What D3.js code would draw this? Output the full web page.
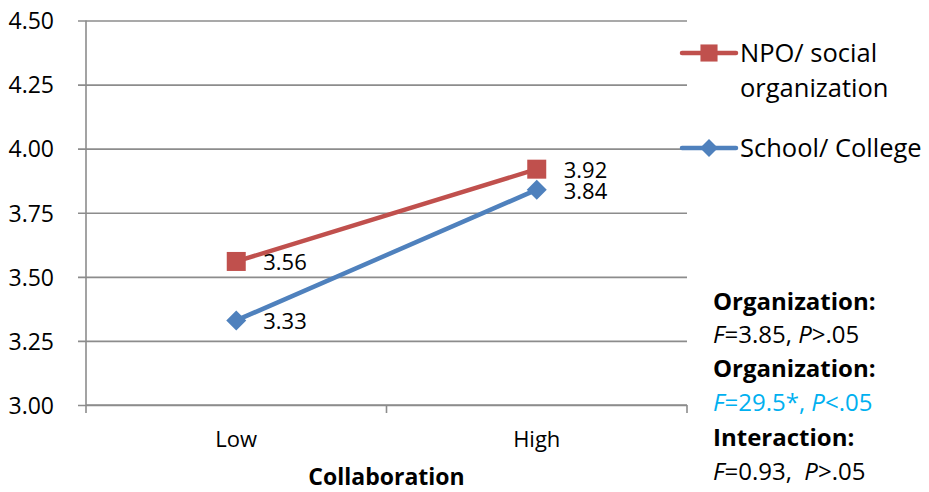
<!DOCTYPE html>
<html>
<head>
<meta charset="utf-8">
<script src="https://cdn.jsdelivr.net/npm/d3@7"></script>
<style>
  html, body { margin: 0; padding: 0; background: #fff; }
  svg { display: block; font-family: "Open Sans", sans-serif; }
</style>
</head>
<body>
<svg id="chart" width="929" height="492"></svg>
<script>
// Mean ratings by collaboration level for two organization types
const categories = ["Low", "High"];
const seriesNames = ["NPO/ social organization", "School/ College"];
const npoValues = [3.56, 3.92];
const schoolValues = [3.33, 3.84];
const yTicks = [3.00, 3.25, 3.50, 3.75, 4.00, 4.25, 4.50];
const xTitle = "Collaboration";
const statLines = [
  { text: [["Organization:", false]], bold: true, color: "#000" },
  { text: [["F", true], ["=3.85, ", false], ["P", true], [">.05", false]], bold: false, color: "#000" },
  { text: [["Organization:", false]], bold: true, color: "#000" },
  { text: [["F", true], ["=29.5*, ", false], ["P", true], ["<.05", false]], bold: false, color: "#00B0F0" },
  { text: [["Interaction:", false]], bold: true, color: "#000" },
  { text: [["F", true], ["=0.93,\u00a0 ", false], ["P", true], [">.05", false]], bold: false, color: "#000" }
];

const series = [
  { name: seriesNames[0], values: npoValues, color: "#C0504D", marker: "square" },
  { name: seriesNames[1], values: schoolValues, color: "#4F81BD", marker: "diamond" }
];

const svg = d3.select("#chart");
const plot = { left: 86, right: 687, top: 20.5, bottom: 405 };
const gridColor = "#8c8c8c";

const y = d3.scaleLinear().domain([3, 4.5]).range([plot.bottom, plot.top]);
const x = d3.scalePoint().domain(categories).range([plot.left, plot.right]).padding(0.5);

// Horizontal gridlines with left tick labels
const yAxis = d3.axisLeft(y)
  .tickValues(yTicks)
  .tickFormat(d3.format(".2f"))
  .tickSize(-(plot.right - plot.left))
  .tickPadding(0);
const gy = svg.append("g")
  .attr("transform", `translate(${plot.left},0)`)
  .call(yAxis);
gy.select(".domain").remove();
gy.selectAll(".tick line")
  .attr("x1", -8)
  .attr("stroke", gridColor)
  .attr("stroke-width", 1.6);
gy.selectAll(".tick text")
  .attr("x", -32)
  .attr("dy", "0.36em")
  .attr("fill", "#000")
  .style("font-size", "23px")
  .style("font-family", "'Open Sans', sans-serif");

// Vertical axis line
svg.append("line")
  .attr("x1", plot.left).attr("x2", plot.left)
  .attr("y1", plot.top).attr("y2", plot.bottom)
  .attr("stroke", gridColor).attr("stroke-width", 1.6);

// Category axis with ticks at category boundaries
const step = x.step();
const boundaries = d3.range(categories.length + 1).map(i => plot.left + i * step);
svg.append("line")
  .attr("x1", plot.left).attr("x2", plot.right)
  .attr("y1", plot.bottom).attr("y2", plot.bottom)
  .attr("stroke", gridColor).attr("stroke-width", 1.6);
svg.append("g").selectAll("line").data(boundaries).join("line")
  .attr("x1", d => d).attr("x2", d => d)
  .attr("y1", plot.bottom).attr("y2", plot.bottom + 8)
  .attr("stroke", gridColor).attr("stroke-width", 1.6);
svg.append("g").selectAll("text").data(categories).join("text")
  .attr("x", d => x(d))
  .attr("y", 447)
  .attr("text-anchor", "middle")
  .style("font-size", "22px")
  .text(d => d);

svg.append("text")
  .attr("x", (plot.left + plot.right) / 2)
  .attr("y", 485)
  .attr("text-anchor", "middle")
  .style("font-size", "23px")
  .style("font-weight", "bold")
  .text(xTitle);

// Marker shapes
function diamondPath(r) {
  return `M0,${-r}L${r},0L0,${r}L${-r},0Z`;
}
function drawMarker(g, s, cx, cy, scale) {
  if (s.marker === "square") {
    g.append("path").attr("d", d3.symbol().type(d3.symbolSquare).size(Math.pow(19 * scale, 2))())
      .attr("transform", `translate(${cx},${cy})`).attr("fill", s.color);
  } else {
    g.append("path").attr("d", diamondPath(10 * scale))
      .attr("transform", `translate(${cx},${cy})`).attr("fill", s.color);
  }
}

// Series lines, markers and value labels
const line = d3.line().x((d, i) => x(categories[i])).y(d => y(d));
series.forEach(s => {
  const g = svg.append("g");
  g.append("path")
    .datum(s.values)
    .attr("d", line)
    .attr("fill", "none")
    .attr("stroke", s.color)
    .attr("stroke-width", 4.5)
    .attr("stroke-linecap", "round");
  s.values.forEach((v, i) => drawMarker(g, s, x(categories[i]), y(v), 1));
  g.selectAll("text").data(s.values).join("text")
    .attr("x", (d, i) => x(categories[i]) + 27)
    .attr("y", d => y(d) + 1)
    .attr("dy", "0.36em")
    .style("font-size", "22px")
    .text(d => d.toFixed(2));
});

// Legend
const legend = svg.append("g");
const legendRows = [
  { s: series[0], cy: 53, lines: ["NPO/ social", "organization"] },
  { s: series[1], cy: 148, lines: ["School/ College"] }
];
legendRows.forEach(r => {
  legend.append("line")
    .attr("x1", 682).attr("x2", 736)
    .attr("y1", r.cy).attr("y2", r.cy)
    .attr("stroke", r.s.color).attr("stroke-width", 4.5)
    .attr("stroke-linecap", "round");
  drawMarker(legend, r.s, 709, r.cy, 0.9);
  r.lines.forEach((t, i) => {
    legend.append("text")
      .attr("x", 740)
      .attr("y", r.cy + 8.5 + i * 35)
      .style("font-size", "25.5px")
      .text(t);
  });
});

// Test statistics
const stats = svg.append("g");
const baselines = [310, 343, 377, 411, 446, 480];
statLines.forEach((l, i) => {
  const t = stats.append("text")
    .attr("x", 713)
    .attr("y", baselines[i])
    .attr("fill", l.color)
    .style("font-size", "24px")
    .style("font-weight", l.bold ? "bold" : "normal");
  l.text.forEach(([str, ital]) => {
    t.append("tspan").style("font-style", ital ? "italic" : "normal").text(str);
  });
});
</script>
</body>
</html>
